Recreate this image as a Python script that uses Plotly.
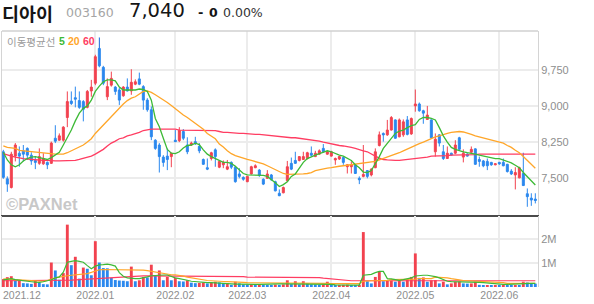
import plotly.graph_objects as go

# ---------------- data ----------------
open_ = [
8050,7490,7310,7960,8020,8070,8120,7980,7870,7810,
7800,7830,7810,8330,8290,8290,8760,9100,9170,9110,
9090,8970,9310,9470,10190,9800,9190,9430,9390,9330,
9210,9390,9310,9450,9560,9400,9120,8920,8290,8190,
7940,7960,7950,8290,8280,8470,8190,8190,8260,8160,
7890,7720,7910,8090,7730,7780,7690,7830,7730,7590,
7520,7430,7590,7720,7670,7480,7500,7570,7430,7190,
7200,7450,7810,7870,7870,7890,7910,8020,7950,8000,
8120,8000,7960,7880,7900,7930,7740,7740,7780,7500,
7540,7660,7570,7720,8180,8430,8400,8500,8710,8360,
8400,8710,8420,9000,9040,8900,8720,8710,8050,8400,
8050,7910,8020,8020,8340,7940,8000,8040,8110,7890,
7860,7850,7830,7780,7830,7830,7790,7650,7570,7510,
7600,7180,7090,7070]
high = [
8090,7540,8050,8230,8160,8190,8140,8040,7960,8120,
8020,7850,8260,8600,8430,8580,9300,9300,9400,9300,
9120,9330,9540,10060,10420,9830,9570,9710,9410,9370,
9410,9570,9760,9550,9690,9430,9160,8990,8310,8230,
7980,8120,8030,8500,8560,8520,8350,8260,8360,8230,
7910,7910,8050,8120,7870,7870,7880,7850,7760,7710,
7540,7550,7760,7790,7690,7500,7670,7590,7450,7270,
7330,7860,7930,8050,7960,8050,8050,8160,8070,8100,
8210,8070,8070,7930,7960,7950,7790,7850,7790,7540,
8190,7670,7710,8120,8470,8450,8710,8790,8720,8740,
8720,8790,8760,9340,9070,8920,9000,8720,8430,8410,
8190,8160,8030,8290,8360,8100,8020,8160,8120,7950,
7880,7910,7840,7810,7840,7910,7800,7690,7730,7740,
8030,7290,7190,7190]
low = [
7490,7220,7290,7850,7740,7850,7880,7780,7690,7780,
7780,7690,7800,8230,8280,8260,8560,9020,8970,8940,
8680,8950,9190,9430,9800,9430,9120,9400,9230,9020,
9190,9300,9230,9430,9430,8920,8880,8290,8090,7620,
7740,7670,7730,8250,8250,8290,8000,8170,8190,8020,
7780,7670,7870,7740,7710,7710,7670,7690,7410,7500,
7450,7420,7580,7710,7530,7360,7490,7450,7230,7130,
7190,7430,7670,7800,7850,7880,7890,7960,7940,7990,
8030,7990,7950,7780,7880,7780,7600,7600,7590,7380,
7520,7500,7540,7710,8160,8260,8380,8490,8320,8350,
8360,8390,8400,8880,8880,8630,8710,8320,7950,8160,
7880,7900,7970,8000,8090,7830,7950,8000,7780,7740,
7730,7670,7760,7770,7780,7750,7620,7570,7270,7500,
7340,6910,6930,6980]
close = [
7520,7380,8000,8190,7960,8000,7980,7860,7830,7950,
7910,7780,8230,8270,8380,8560,9090,9050,9140,8970,
8930,9300,9390,10020,9830,9470,9400,9570,9300,9120,
9390,9310,9490,9500,9450,9120,8920,8360,8120,7950,
7830,7890,8020,8260,8490,8330,8050,8230,8220,8070,
7790,7690,8030,7950,7850,7830,7740,7730,7430,7540,
7480,7540,7740,7760,7560,7380,7590,7470,7240,7140,
7310,7740,7690,7810,7950,7950,8030,7980,8020,8070,
8050,8050,8050,7910,7950,7830,7780,7780,7600,7470,
7580,7540,7690,8050,8400,8400,8500,8760,8330,8710,
8670,8410,8740,9040,8900,8850,8810,8340,8310,8230,
7910,8020,7980,8190,8100,8020,7960,8100,7790,7850,
7760,7760,7780,7800,7800,7760,7640,7590,7620,7720,
7350,7120,7050,7040]

ma5 = [
8040,7880,7780,7740,7780,7860,7910,7940,7950,7930,
7910,7890,7930,7980,8040,8190,8330,8500,8690,8850,
8950,9000,9120,9300,9410,9500,9540,9540,9520,9390,
9330,9330,9330,9330,9350,9340,9300,9120,8740,8570,
8330,8100,8020,8010,8050,8130,8180,8190,8230,8200,
8090,8000,7950,7910,7870,7830,7830,7810,7750,7670,
7600,7570,7570,7570,7570,7560,7540,7480,7410,7330,
7370,7430,7540,7590,7720,7830,7910,7950,7980,8010,
8040,8070,8050,8010,7980,7960,7910,7870,7780,7720,
7630,7620,7660,7800,7950,8120,8230,8340,8430,8480,
8500,8550,8590,8610,8720,8760,8760,8740,8710,8550,
8380,8250,8140,8100,8070,8050,8030,8020,8000,7980,
7960,7940,7920,7910,7910,7880,7860,7820,7770,7720,
7620,7530,7450,7360]
ma20 = [
8170,8140,8130,8120,8080,8070,8070,8050,8040,8030,
8020,8010,8000,8000,8000,8000,8030,8070,8110,8150,
8190,8250,8320,8430,8520,8610,8700,8780,8860,8960,
9040,9110,9160,9190,9240,9300,9310,9280,9230,9180,
9120,9070,9010,8940,8870,8810,8760,8700,8630,8570,
8515,8430,8380,8320,8210,8150,8070,8010,7970,7940,
7910,7890,7870,7850,7830,7800,7760,7720,7680,7640,
7600,7580,7580,7580,7580,7590,7600,7620,7660,7680,
7700,7710,7720,7740,7750,7760,7770,7780,7790,7800,
7810,7820,7840,7850,7880,7910,7940,7960,8000,8030,
8070,8110,8150,8180,8220,8250,8290,8320,8360,8380,
8410,8430,8450,8460,8470,8460,8440,8410,8380,8360,
8340,8310,8290,8270,8250,8230,8180,8140,8080,8030,
7950,7870,7780,7710]
ma60 = [
8010,7980,7960,7940,7920,7910,7900,7890,7890,7880,
7870,7870,7860,7860,7860,7860,7860,7870,7870,7890,
7910,7930,7960,8000,8050,8100,8170,8230,8270,8320,
8340,8380,8400,8420,8450,8490,8510,8520,8520,8520,
8520,8520,8520,8520,8500,8500,8500,8490,8490,8490,
8490,8490,8490,8490,8470,8450,8450,8440,8430,8430,
8430,8420,8420,8410,8410,8400,8390,8380,8370,8360,
8350,8340,8340,8340,8330,8320,8310,8290,8280,8270,
8250,8230,8220,8200,8180,8170,8160,8140,8120,8090,
8070,8050,8000,7960,7920,7890,7880,7870,7870,7870,
7880,7890,7900,7910,7910,7930,7940,7960,7960,7960,
7970,7970,7980,7980,7980,7980,7980,7980,7990,8000,
8000,8000,8000,8000,8000,8000,8000,8000,8000,8000,
8000,8000,8000,8000]

# volume in millions of shares
volume_m = [
0.33,0.41,0.45,0.26,0.27,0.16,0.15,0.13,0.26,0.18,
0.12,0.11,1.02,0.69,0.30,0.58,2.60,0.91,1.26,0.35,
0.81,0.76,0.49,1.91,1.02,0.79,0.78,0.38,0.29,0.27,
0.26,0.24,0.85,0.24,0.28,0.42,0.40,0.93,0.46,0.69,
0.28,0.42,0.28,0.38,0.24,0.23,0.28,0.18,0.16,0.17,
0.19,0.15,0.18,0.22,0.19,0.15,0.16,0.09,0.22,0.15,
0.11,0.10,0.11,0.10,0.11,0.10,0.09,0.08,0.10,0.09,
0.11,0.28,0.12,0.24,0.11,0.24,0.15,0.11,0.10,0.09,
0.11,0.22,0.11,0.07,0.08,0.09,0.10,0.08,0.07,0.09,
2.29,0.24,0.15,0.42,0.65,0.24,0.26,0.27,0.22,0.26,
0.22,0.33,0.42,1.40,0.38,0.40,0.22,0.28,0.29,0.15,
0.22,0.11,0.15,0.22,0.23,0.15,0.14,0.15,0.22,0.09,
0.08,0.08,0.07,0.08,0.07,0.08,0.07,0.06,0.07,0.06,
0.22,0.19,0.15,0.14]
vma5 = [
0.30,0.33,0.35,0.31,0.28,0.26,0.23,0.22,0.20,0.19,
0.22,0.26,0.30,0.38,0.42,0.62,1.03,1.07,1.10,1.07,
1.03,0.89,0.76,0.87,0.92,0.93,0.95,0.92,0.87,0.60,
0.45,0.38,0.35,0.35,0.35,0.37,0.42,0.47,0.49,0.49,
0.50,0.50,0.43,0.38,0.35,0.33,0.28,0.24,0.22,0.19,
0.18,0.18,0.18,0.16,0.15,0.15,0.14,0.12,0.12,0.12,
0.11,0.11,0.11,0.11,0.11,0.12,0.12,0.13,0.13,0.13,
0.13,0.13,0.13,0.13,0.12,0.11,0.11,0.11,0.11,0.11,
0.11,0.11,0.11,0.09,0.08,0.08,0.08,0.08,0.08,0.08,
0.49,0.51,0.53,0.60,0.65,0.65,0.35,0.34,0.31,0.28,
0.31,0.35,0.38,0.46,0.49,0.49,0.49,0.47,0.43,0.38,
0.30,0.24,0.22,0.22,0.22,0.20,0.19,0.19,0.22,0.19,
0.18,0.16,0.15,0.14,0.12,0.11,0.11,0.12,0.14,0.15,
0.15,0.15,0.15,0.15]
vma20 = [
0.34,0.33,0.31,0.31,0.30,0.28,0.27,0.26,0.26,0.24,
0.24,0.27,0.33,0.38,0.41,0.45,0.47,0.49,0.50,0.51,
0.53,0.56,0.61,0.66,0.72,0.73,0.73,0.73,0.73,0.73,
0.73,0.73,0.73,0.73,0.72,0.70,0.68,0.65,0.62,0.60,
0.56,0.53,0.51,0.51,0.49,0.45,0.41,0.38,0.34,0.31,
0.28,0.27,0.26,0.24,0.23,0.23,0.22,0.22,0.20,0.19,
0.19,0.18,0.18,0.16,0.16,0.15,0.15,0.15,0.15,0.15,
0.15,0.15,0.15,0.15,0.15,0.15,0.15,0.15,0.15,0.15,
0.15,0.15,0.14,0.14,0.14,0.14,0.14,0.14,0.14,0.14,
0.24,0.26,0.26,0.26,0.26,0.26,0.28,0.31,0.31,0.31,
0.31,0.33,0.33,0.33,0.35,0.35,0.35,0.35,0.41,0.41,
0.38,0.38,0.35,0.34,0.30,0.27,0.26,0.26,0.26,0.24,
0.24,0.23,0.22,0.22,0.20,0.18,0.15,0.15,0.15,0.15,
0.15,0.15,0.15,0.15]
vma60 = [
0.26,0.26,0.26,0.26,0.26,0.26,0.26,0.26,0.26,0.27,
0.27,0.27,0.27,0.27,0.27,0.27,0.27,0.29,0.30,0.31,
0.32,0.33,0.34,0.36,0.38,0.39,0.40,0.41,0.42,0.43,
0.44,0.44,0.46,0.46,0.46,0.46,0.46,0.46,0.46,0.46,
0.46,0.46,0.46,0.46,0.46,0.46,0.45,0.45,0.45,0.45,
0.45,0.45,0.45,0.43,0.43,0.43,0.43,0.43,0.43,0.43,
0.43,0.41,0.41,0.41,0.41,0.41,0.41,0.41,0.41,0.41,
0.41,0.41,0.41,0.41,0.41,0.41,0.41,0.41,0.41,0.39,
0.37,0.35,0.33,0.31,0.29,0.28,0.27,0.26,0.26,0.26,
0.26,0.26,0.26,0.26,0.26,0.26,0.26,0.26,0.26,0.26,
0.26,0.26,0.26,0.26,0.26,0.26,0.26,0.26,0.26,0.26,
0.26,0.26,0.26,0.26,0.26,0.26,0.26,0.26,0.26,0.26,
0.26,0.26,0.26,0.26,0.26,0.26,0.26,0.26,0.26,0.26,
0.26,0.26,0.26,0.26]

month_pos = [1, 23, 43, 61, 82, 103, 124]
month_labels = ["2021.12", "2022.01", "2022.02", "2022.03", "2022.04", "2022.05", "2022.06"]
price_ticks = [7500, 8250, 9000, 9750]
vol_ticks = [1, 2]
vol_tick_labels = ["1M", "2M"]

stock_name = "디아이"
stock_code = "003160"
last_price = "7,040"
change = "0"
change_pct = "0.00%"
ma_title = "이동평균선"
ma_periods = ["5", "20", "60"]

# ---------------- styling ----------------
RED = "#F2424F"
BLUE = "#2B88EE"
C5 = "#3DBA36"
C20 = "#FFA629"
C60 = "#FF3D62"
GRID = "#ECECEC"
TICK = dict(family="Liberation Sans", size=11, color="#8E8E8E")

W, H = 594, 304
ML, MR, MT, MB = 2, 56, 31, 17
PW, PH = W - ML - MR, H - MT - MB


def px(xp):
    return (xp - ML) / PW


def py(yp):
    return (H - MB - yp) / PH


n = len(close)
xi = list(range(n))

fig = go.Figure()
fig.add_trace(go.Candlestick(
    x=xi, open=open_, high=high, low=low, close=close,
    increasing=dict(line=dict(color=RED, width=1), fillcolor=RED),
    decreasing=dict(line=dict(color=BLUE, width=1), fillcolor=BLUE),
    whiskerwidth=0, hoverinfo="skip", xaxis="x", yaxis="y"))
for ma, col in ((ma60, C60), (ma20, C20), (ma5, C5)):
    fig.add_trace(go.Scatter(x=xi, y=ma, mode="lines", line=dict(color=col, width=1.3),
                             hoverinfo="skip", xaxis="x", yaxis="y"))

vol_colors = [RED if i == 0 or volume_m[i] >= volume_m[i - 1] else BLUE for i in range(n)]
fig.add_trace(go.Bar(x=xi, y=volume_m, marker=dict(color=vol_colors, line=dict(width=0)),
                     width=0.72, hoverinfo="skip", xaxis="x2", yaxis="y2"))
for ma, col in ((vma60, C60), (vma20, C20), (vma5, C5)):
    fig.add_trace(go.Scatter(x=xi, y=ma, mode="lines", line=dict(color=col, width=1.2),
                             hoverinfo="skip", xaxis="x2", yaxis="y2"))

xr = [-0.33, n - 0.33]
price_dom = [py(215), 1]
vol_dom = [0, py(216)]

fig.update_layout(
    width=W, height=H, margin=dict(l=ML, r=MR, t=MT, b=MB),
    paper_bgcolor="white", plot_bgcolor="white", showlegend=False,
    xaxis=dict(domain=[0, 1], range=xr, anchor="y", tickvals=month_pos[1:], showticklabels=False,
               ticks="", showgrid=True, gridcolor=GRID, gridwidth=1.5, zeroline=False,
               rangeslider=dict(visible=False), showline=True, linecolor="#4A4A4A", linewidth=1.5,
               fixedrange=True),
    yaxis=dict(domain=price_dom, range=[6740, 10552], side="right", tickvals=price_ticks,
               tickformat=",", ticks="", tickfont=TICK, showgrid=True, gridcolor=GRID, gridwidth=1.5,
               zeroline=False, showline=True, linecolor="#D4D4D4", linewidth=1, mirror=True),
    xaxis2=dict(domain=[0, 1], range=xr, anchor="y2", matches="x", tickvals=month_pos[1:],
                ticktext=month_labels[1:], ticks="", tickfont=dict(family="Liberation Sans", size=10.5, color="#8E8E8E"),
                showgrid=True, gridcolor=GRID, gridwidth=1.5, zeroline=False, showline=False),
    yaxis2=dict(domain=vol_dom, range=[0, 2.96], side="right", tickvals=vol_ticks, ticktext=vol_tick_labels,
                ticks="", tickfont=TICK, showgrid=True, gridcolor=GRID, gridwidth=1.5, zeroline=False,
                showline=True, linecolor="#D4D4D4", linewidth=1, mirror=True),
    shapes=[
        dict(type="line", xref="paper", yref="paper", x0=0, x1=1, y0=1, y1=1,
             line=dict(color="#D0D0D0", width=1.5)),
        dict(type="line", xref="paper", yref="paper", x0=px(99.5), x1=px(99.5), y0=py(38), y1=py(49),
             line=dict(color="#3A7DE0", width=1)),
    ],
)

ann = []


def add(text, x, y, size, color, family="DejaVu Sans", xanchor="left"):
    ann.append(dict(text=text, x=px(x), y=py(y), xref="paper", yref="paper", xanchor=xanchor,
                    yanchor="middle", showarrow=False, borderpad=0,
                    font=dict(family=family, size=size, color=color)))


add("<b>" + stock_name + "</b>", 1, 12.5, 18.5, "#151515", family="Noto Sans CJK KR")
add(stock_code, 65, 12, 12.5, "#A5A5A5")
add(last_price, 128, 10.5, 19.5, "#151515")
add("<b>-</b>", 197, 12, 13, "#151515")
add("<b>" + change + "</b>", 208, 12, 12.5, "#151515")
add(change_pct, 222, 12, 12.5, "#333333")
add(ma_title, 6, 41, 10.5, "#9A9A9A", family="Noto Sans CJK KR")
add("<b>" + ma_periods[0] + "</b>", 58, 41, 10.5, C5, family="Liberation Sans")
add("<b>" + ma_periods[1] + "</b>", 67, 41, 10.5, C20, family="Liberation Sans")
add("<b>" + ma_periods[2] + "</b>", 82, 41, 10.5, C60, family="Liberation Sans")
add("<b>©PAXNet</b>", 5, 204, 16.5, "#C8C8C8", family="Liberation Sans")
add(month_labels[0], 2, 295, 10.5, "#8E8E8E", family="Liberation Sans")
fig.update_layout(annotations=ann)

fig.write_html("out.html")
